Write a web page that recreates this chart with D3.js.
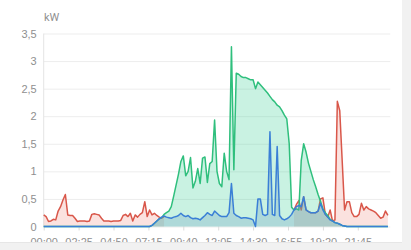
<!DOCTYPE html>
<html>
<head>
<meta charset="utf-8">
<script src="https://cdn.jsdelivr.net/npm/d3@7"></script>
<style>
  body { margin: 0; background: #f1f1f1; }
  svg { display: block; font-family: Roboto, "Noto Sans", sans-serif; }
</style>
</head>
<body>
<div id="container"></div>
<script>
// samples every 10 minutes, 00:00 .. 23:50
const grid = [0.21,0.18,0.09,0.10,0.13,0.12,0.28,0.36,0.48,0.58,
  0.21,0.20,0.20,0.15,0.09,0.10,0.10,0.10,0.09,0.10,
  0.22,0.23,0.22,0.21,0.15,0.10,0.10,0.10,0.09,0.10,
  0.10,0.10,0.11,0.20,0.22,0.18,0.24,0.10,0.21,0.17,
  0.22,0.25,0.45,0.18,0.30,0.21,0.24,0.20,0.17,0.15,
  0.18,null,null,null,null,null,null,null,null,null,
  null,null,null,null,null,null,null,null,null,null,
  null,null,null,null,null,null,null,null,null,null,
  null,null,null,null,null,null,null,null,null,null,
  null,null,null,null,null,null,null,null,null,null,
  null,null,null,null,0.30,0.40,0.47,0.30,0.54,0.30,
  0.27,0.25,0.25,0.25,0.28,0.50,0.52,0.22,0.17,0.30,
  0.10,0.12,2.27,2.10,1.20,0.30,0.45,0.45,0.25,0.18,
  0.18,0.22,0.42,0.30,0.36,0.32,0.30,0.28,0.25,0.20,
  0.15,0.17,0.28,0.20];

const solar = [0,0,0,0,0,0,0,0,0,0,
  0,0,0,0,0,0,0,0,0,0,
  0,0,0,0,0,0,0,0,0,0,
  0,0,0,0,0,0,0,0,0,0,
  0,0,0,0,0,0.02,0.06,0.10,0.14,0.16,
  0.22,0.25,0.28,0.36,0.55,0.75,0.95,1.18,1.28,0.92,
  1.00,1.25,0.70,0.82,1.05,0.78,1.24,1.26,0.80,1.14,
  1.18,1.93,1.00,0.78,0.72,1.33,1.00,0.85,3.26,1.03,
  2.78,2.76,2.72,2.70,2.70,2.68,2.66,2.66,2.50,2.62,
  2.57,2.52,2.47,2.42,2.36,2.30,2.26,2.20,2.17,2.10,
  2.02,1.95,1.50,0.35,0.30,0.32,0.30,1.20,1.50,1.35,
  1.15,1.00,0.85,0.72,0.58,0.46,0.32,0.25,0.20,0.13,
  0.10,0.07,0.06,0.04,0.02,0.01,0,0,0,0,
  0,0,0,0,0,0,0,0,0,0,
  0,0,0,0];

const battery = [0,0,0,0,0,0,0,0,0,0,
  0,0,0,0,0,0,0,0,0,0,
  0,0,0,0,0,0,0,0,0,0,
  0,0,0,0,0,0,0,0,0,0,
  0,0,0,0,0,0.02,0.06,0.10,0.14,0.17,
  0.19,0.17,0.16,0.15,0.17,0.18,0.20,0.24,0.20,0.18,
  0.20,0.16,0.14,0.15,0.14,0.12,0.16,0.20,0.25,0.22,
  0.20,0.28,0.24,0.20,0.18,0.18,0.18,0.25,0.78,0.24,
  0.20,0.18,0.15,0.16,0.16,0.15,0.14,0.12,0.00,0.50,
  0.50,0.22,0.20,0.22,1.72,0.22,0.20,1.45,0.20,0.14,
  0.12,0.14,0.17,0.22,0.30,0.36,0.38,0.36,0.54,0.30,
  0.27,0.25,0.25,0.25,0.28,0.42,0.30,0.22,0.17,0.12,
  0.10,0.07,0.06,0.04,0.02,0.01,0,0,0,0,
  0,0,0,0,0,0,0,0,0,0,
  0,0,0,0];

const xTicks = [0,145,290,435,580,725,870,1015,1160,1305];
const xTickLabels = ["00:00","02:25","04:50","07:15","09:40","12:05","14:30","16:55","19:20","21:45"];
const yTicks = [0,0.5,1,1.5,2,2.5,3,3.5];
const yTickLabels = ["0","0,5","1","1,5","2","2,5","3","3,5"];

const w = 411, h = 250;
const svg = d3.select("#container").append("svg").attr("width", w).attr("height", h);

// white card
svg.append("rect").attr("x", 0).attr("y", 0).attr("width", 402).attr("height", 242).attr("fill", "#fff");

const x = d3.scaleLinear().domain([0, 1440]).range([43.7, 390.3]);
const y = d3.scaleLinear().domain([0, 3.5]).range([226.5, 33.5]);

// y grid + labels
const yAxisG = svg.append("g").attr("transform", `translate(${x(0)},0)`)
  .call(d3.axisLeft(y).tickValues(yTicks).tickSize(-(x(1440) - x(0))).tickPadding(7)
    .tickFormat((d, i) => yTickLabels[i]));
yAxisG.select(".domain").remove();
yAxisG.selectAll("line").attr("stroke", "#ededed");
yAxisG.selectAll("text").attr("fill", "#8f8f8f").attr("font-size", 11);

svg.append("line").attr("x1", x(0)).attr("x2", x(0)).attr("y1", y(3.5)).attr("y2", y(0))
  .attr("stroke", "#e4e4e4");

svg.append("text").attr("x", 44).attr("y", 21).attr("fill", "#8f8f8f").attr("font-size", 11).text("kW");

// x axis
const xAxisG = svg.append("g").attr("transform", `translate(0,${y(0)})`)
  .call(d3.axisBottom(x).tickValues(xTicks).tickSize(4).tickPadding(8)
    .tickFormat((d, i) => xTickLabels[i]));
xAxisG.select(".domain").remove();
xAxisG.selectAll("line").attr("stroke", "#dcdcdc");
xAxisG.selectAll("text").attr("fill", "#8f8f8f").attr("font-size", 11);

const series = [
  {data: grid, stroke: "#d9574a", fill: "rgba(236,110,95,0.2)"},
  {data: solar, stroke: "#2fbf7d", fill: "rgba(60,210,150,0.28)"},
  {data: battery, stroke: "#3a7fd6", fill: "rgba(95,145,195,0.26)"}
];

series.forEach(s => {
  const pts = s.data.map((v, i) => [i * 10, v]);
  const area = d3.area().defined(d => d[1] != null)
    .x(d => x(d[0])).y0(y(0)).y1(d => y(d[1]));
  const line = d3.line().defined(d => d[1] != null)
    .x(d => x(d[0])).y(d => y(d[1]));
  svg.append("path").datum(pts).attr("d", area).attr("fill", s.fill);
  svg.append("path").datum(pts).attr("d", line).attr("fill", "none")
    .attr("stroke", s.stroke).attr("stroke-width", 1.5).attr("stroke-linejoin", "round");
});

// bottom strip cuts the labels
svg.append("rect").attr("x", 0).attr("y", 242).attr("width", w).attr("height", 8).attr("fill", "#f1f1f1");
svg.append("line").attr("x1", 0).attr("x2", w).attr("y1", 242.5).attr("y2", 242.5).attr("stroke", "#e6e6e6");
svg.append("rect").attr("x", 402).attr("y", 0).attr("width", 9).attr("height", h).attr("fill", "#f1f1f1");
</script>
</body>
</html>
